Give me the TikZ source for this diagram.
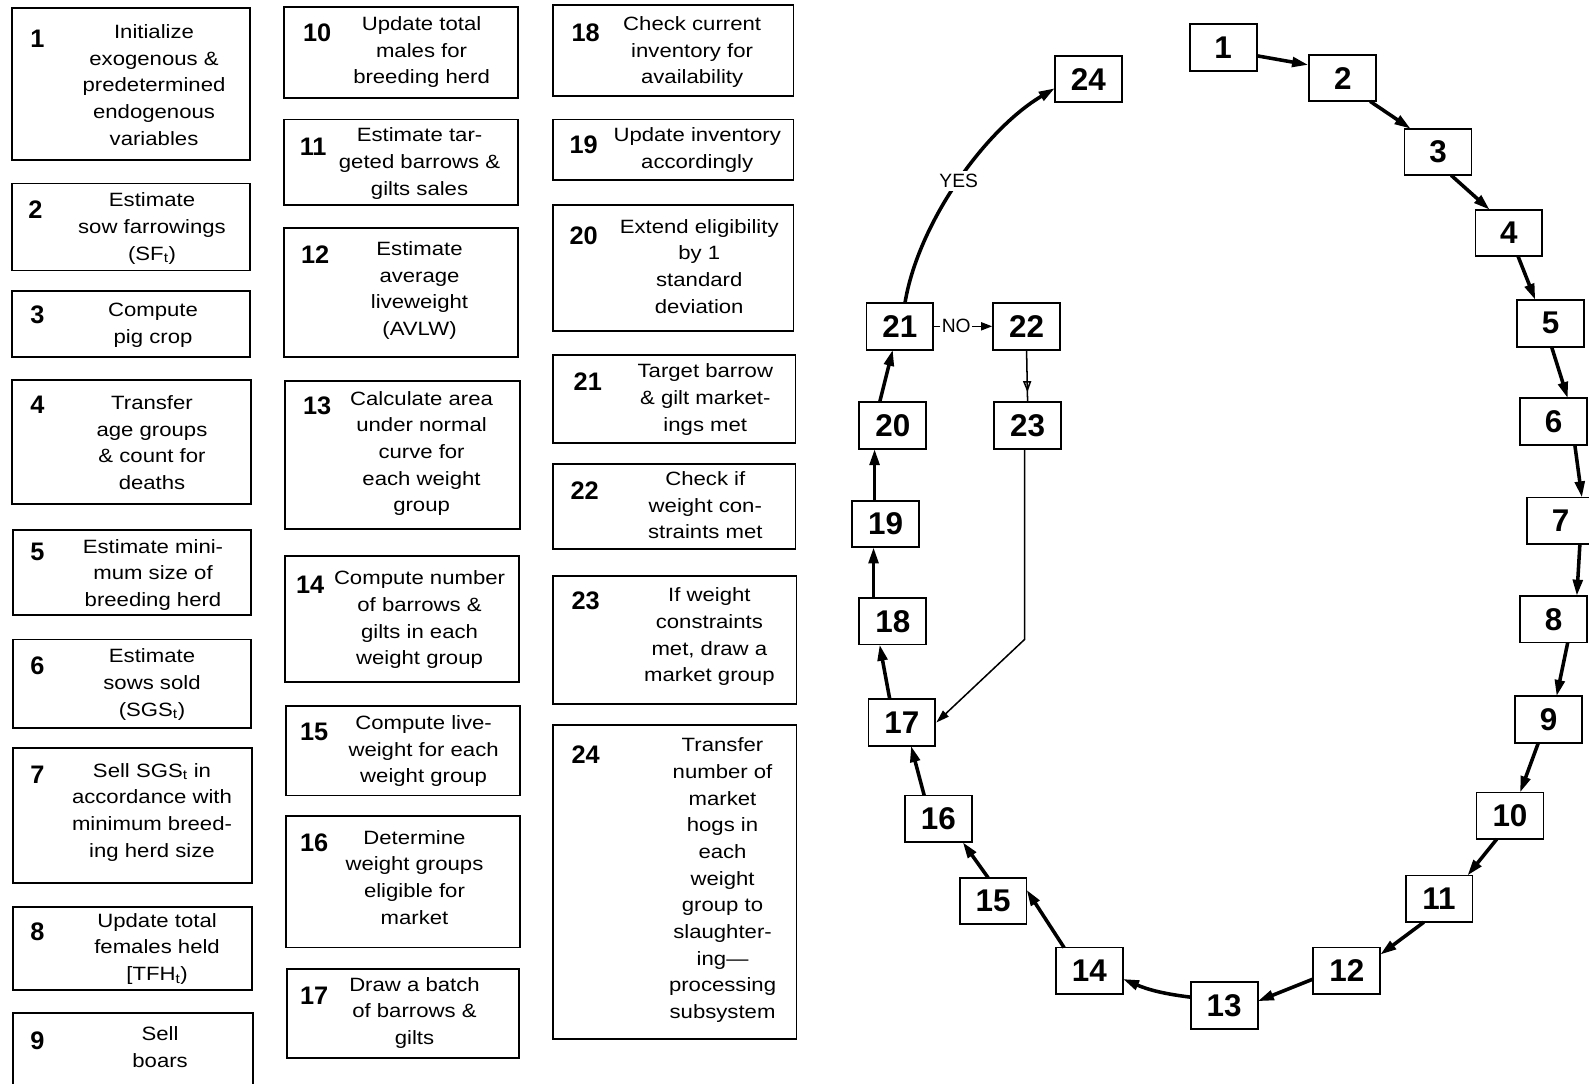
\documentclass[tikz,border=0pt]{standalone}
\usepackage{fontspec}
\setmainfont{Liberation Sans}[FakeStretch=1.15]
\newfontfamily\numfont{Liberation Sans}
\usetikzlibrary{calc,arrows.meta,decorations.markings,fit}
\tikzset{
  lbox/.style={draw, line width=1.8pt, inner sep=0pt},
  ltext/.style={align=center, anchor=north, inner sep=0pt, yshift=-5pt,
    font=\fontsize{19}{26.3}\selectfont, execute at begin node=\strut},
  lnum/.style={inner sep=0pt, font=\numfont\bfseries\fontsize{25}{25}\selectfont},
  dbox/.style={draw, line width=1.8pt, minimum width=66pt, minimum height=46pt,
    inner sep=0pt, font=\numfont\bfseries\fontsize{31}{31}\selectfont},
  flow/.style={line width=3.5pt, -{Triangle[length=16pt,width=9.5pt]}},
  thinflow/.style={line width=1.5pt},
  lbl/.style={fill=white, inner sep=1.5pt, font=\numfont\fontsize{19}{19}\selectfont},
}
\newcommand\mkbox[7]{%
  \node[lbox, fit={(#2) (#3)}] (#1) {};
  \node[lnum] (#1n) at (#4) {#5};
  \node[ltext] (#1t) at (#6) {#7};
}
\begin{document}
\begin{tikzpicture}[x=1pt,y=-1pt]
\path[use as bounding box] (0,0) rectangle (1568,1069);
\clip (0,0) rectangle (1568,1069);
\fill[white] (0,0) rectangle (1568,1069);

% ---- column 1
\mkbox{b1}{12,8}{247,158}{37,38}{1}{152,19}{Initialize\\exogenous \&\\predetermined\\endogenous\\variables}
\mkbox{b2}{12,181}{247,267}{35,207}{2}{150,185}{Estimate\\sow farrowings\\(SF\textsubscript{t})}
\mkbox{b3}{12,287}{247,352}{37,311}{3}{151,294}{Compute\\pig crop}
\mkbox{b4}{12,375}{248,497}{37,399}{4}{150,385}{Transfer\\age groups\\\& count for\\deaths}
\mkbox{b5}{13,523}{248,607}{37,545}{5}{151,527}{Estimate mini-\\mum size of\\breeding herd}
\mkbox{b6}{13,631}{248,718}{37,657}{6}{150,635}{Estimate\\sows sold\\(SGS\textsubscript{t})}
\mkbox{b7}{13,738}{249,871}{37,765}{7}{150,748}{Sell SGS\textsubscript{t} in\\accordance with\\minimum breed-\\ing herd size}
\mkbox{b8}{13,895}{249,977}{37,919}{8}{155,896}{Update total\\females held\\{[}TFH\textsubscript{t})}
\mkbox{b9}{13,1000}{250,1095}{37,1027}{9}{158,1008}{Sell\\boars}

% ---- column 2
\mkbox{b10}{280,7}{511,97}{313,32}{10}{416,11}{Update total\\males for\\breeding herd}
\mkbox{b11}{280,118}{511,202}{309,145}{11}{414,121}{Estimate tar-\\geted barrows \&\\gilts sales}
\mkbox{b12}{280,225}{511,352}{311,251}{12}{414,233}{Estimate\\average\\liveweight\\(AVLW)}
\mkbox{b13}{281,376}{513,522}{313,400}{13}{416,381}{Calculate area\\under normal\\curve for\\each weight\\group}
\mkbox{b14}{281,549}{512,673}{306,577}{14}{414,558}{Compute number\\of barrows \&\\gilts in each\\weight group}
\mkbox{b15}{282,697}{513,785}{310,722}{15}{418,701}{Compute live-\\weight for each\\weight group}
\mkbox{b16}{282,805}{513,935}{310,832}{16}{409,814}{Determine\\weight groups\\eligible for\\market}
\mkbox{b17}{283,956}{512,1044}{310,983}{17}{409,959}{Draw a batch\\of barrows \&\\gilts}

% ---- column 3
\mkbox{b18}{546,5}{783,95}{578,32}{18}{683,11}{Check current\\inventory for\\availability}
\mkbox{b19}{546,118}{783,178}{576,143}{19}{688,121}{Update inventory\\accordingly}
\mkbox{b20}{546,202}{783,327}{576,233}{20}{690,211}{Extend eligibility\\by 1\\standard\\deviation}
\mkbox{b21}{546,350}{785,437}{580,377}{21}{696,354}{Target barrow\\\& gilt market-\\ings met}
\mkbox{b22}{546,458}{785,542}{577,484}{22}{696,460}{Check if\\weight con-\\straints met}
\mkbox{b23}{546,568}{786,695}{578,593}{23}{700,575}{If weight\\constraints\\met, draw a\\market group}
\mkbox{b24}{546,715}{786,1025}{578,745}{24}{713,723}{Transfer\\number of\\market\\hogs in\\each\\weight\\group to\\slaughter-\\ing—\\processing\\subsystem}

% ---- cycle diagram
\foreach \n/\x/\y in {1/1207/47, 2/1325/77, 3/1419/150, 4/1489/230, 5/1530/319,
  6/1533/416, 7/1540/514, 8/1533/611, 9/1528/710, 10/1490/805, 11/1420/887,
  12/1329/958, 13/1208/992, 14/1075/958, 15/980/889, 16/926/808, 17/890/713,
  18/881/613, 19/874/517, 20/881/420, 21/888/322, 22/1013/322, 23/1014/420, 24/1074/78}
  \node[dbox] (n\n) at (\x,\y) {\n};

\draw[flow] ($(n1)+(33,8)$) -- ($(n2)+(-34,-13)$);
\draw[flow] ($(n2)+(27,23)$) -- ($(n3)+(-27,-23)$);
\draw[flow] ($(n3)+(13,23)$) -- ($(n4)+(-19,-23)$);
\draw[flow] ($(n4)+(9,23)$) -- ($(n5)+(-15,-23)$);
\draw[flow] ($(n5)+(1,23)$) -- ($(n6)+(14,-23)$);
\draw[flow] ($(n6)+(21,23)$) -- ($(n7)+(21,-23)$);
\draw[flow] ($(n7)+(19,23)$) -- ($(n8)+(23,-23)$);
\draw[flow] ($(n8)+(14,23)$) -- ($(n9)+(8,-23)$);
\draw[flow] ($(n9)+(-10,23)$) -- ($(n10)+(10,-23)$);
\draw[flow] ($(n10)+(-13,23)$) -- ($(n11)+(28,-23)$);
\draw[flow] ($(n11)+(-15,23)$) -- ($(n12)+(33,-16)$);
\draw[flow] ($(n12)+(-33,8)$) -- ($(n13)+(33,-4)$);
\draw[flow] ($(n13)+(-33,-8)$) to[bend left=8] ($(n14)+(33,8)$);
\draw[flow] ($(n14)+(-25,-23)$) -- ($(n15)+(33,-11)$);
\draw[flow] ($(n15)+(-5,-23)$) -- ($(n16)+(24,23)$);
\draw[flow] ($(n16)+(-14,-23)$) -- ($(n17)+(9,23)$);
\draw[flow] ($(n17)+(-12,-23)$) -- ($(n18)+(-13,23)$);
\draw[flow] ($(n18)+(-19,-23)$) -- ($(n19)+(-12,23)$);
\draw[flow] ($(n19)+(-11,-23)$) -- ($(n20)+(-18,23)$);
\draw[flow] ($(n20)+(-13,-23)$) -- ($(n21)+(-7,23)$);

% YES branch
\draw[flow] ($(n21)+(5,-23)$) .. controls (906,220) and (972,128) ..
  node[lbl, pos=0.5, inner sep=3pt] (yes) {YES} ($(n24)+(-33,9)$);
% NO branch
\draw[thinflow, -{Triangle[length=11pt,width=8pt]}] (n21.east) --
  node[lbl, pos=0.38] (no) {NO} (n22.west);
\draw[thinflow, postaction={decorate}, decoration={markings,
  mark=at position 0.82 with {\arrow{Triangle[open,length=11pt,width=8pt]}}}]
  (n22.south) -- (n23.north);
\coordinate (k23) at (1011,631);
\draw[thinflow, -{Triangle[length=13pt,width=8pt]}] ($(n23.south)+(-3,0)$) -- (k23) -- (n17.east);
\end{tikzpicture}
\end{document}
